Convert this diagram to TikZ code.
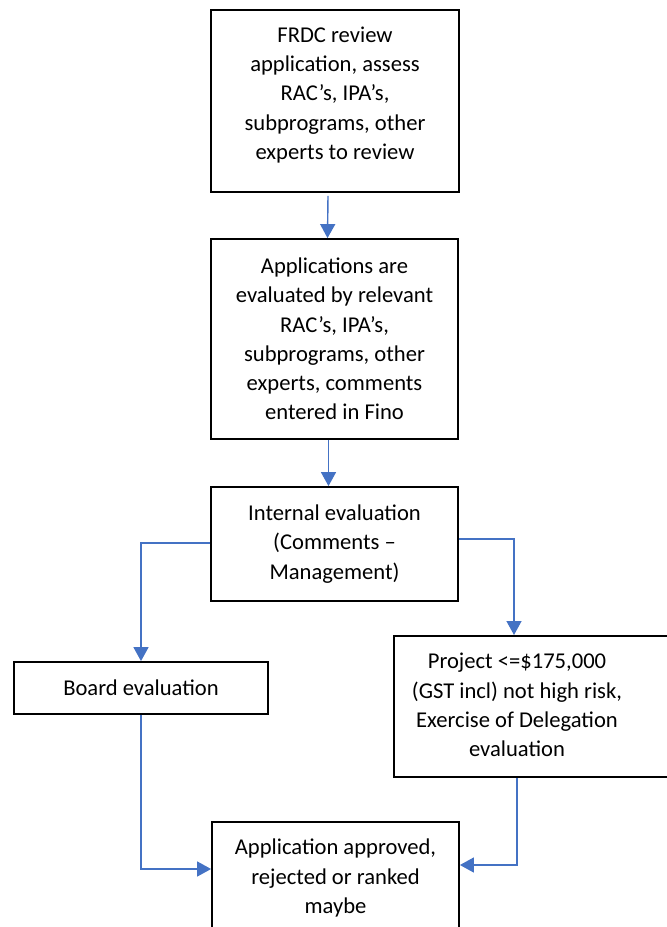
\documentclass[tikz,border=0pt]{standalone}
\usepackage{fontspec}
\setmainfont{Carlito}
\usetikzlibrary{arrows.meta, positioning, calc}

\definecolor{flowblue}{RGB}{68,114,196}

\begin{document}
\begin{tikzpicture}[
    x=1pt, y=-1pt,
    box/.style={draw, line width=1.8pt, minimum width=#1, inner sep=2pt,
                align=center, font=\fontsize{22.6}{29.2}\selectfont},
    txt/.style={align=center, inner sep=0pt, font=\fontsize{22.6}{29.2}\selectfont},
    flow/.style={draw=flowblue, line width=1.4pt,
                 -{Triangle[width=15pt, length=14pt]}}
  ]

  \useasboundingbox (0,0) rectangle (667,927);

  \node[box=248pt, minimum height=182pt] (frdc) at (335,101) {};
  \node[txt] (frdctxt) at (335,95)
    {FRDC review\\application, assess\\RAC’s, IPA’s,\\subprograms, other\\experts to review};
  \node[box=247pt, minimum height=200pt] (apps) at (334.5,339)
    {Applications are\\evaluated by relevant\\RAC’s, IPA’s,\\subprograms, other\\experts, comments\\entered in Fino};
  \node[box=247pt, minimum height=114pt] (internal) at (334.5,544)
    {Internal evaluation\\(Comments –\\Management)};
  \node[box=254pt, minimum height=52pt] (board) at (141,688)
    {Board evaluation};
  \node[box=330pt, minimum height=141pt, anchor=north west] (project) at (393,635) {};
  \node[txt] (projtxt) at (517,705)
    {Project <=\$175,000\\(GST incl) not high risk,\\Exercise of Delegation\\evaluation};
  \node[box=247pt, minimum height=112pt] (final) at (335.5,878)
    {Application approved,\\rejected or ranked\\maybe};

  % connectors
  \draw[flow] ([xshift=-7pt, yshift=-3pt]frdc.south) -- ([xshift=-7pt]apps.north);
  \draw[flow] ([xshift=-6pt]apps.south) -- ([xshift=-6pt]internal.north);
  \draw[flow] ([yshift=1pt]internal.west) -| (board.north);
  \draw[flow] ([yshift=5pt]internal.east) -| ([xshift=-3pt]projtxt.north |- project.north);
  \draw[flow] (board.south) |- ([yshift=9pt]final.west);
  \draw[flow] (projtxt.south |- project.south) |- ([yshift=13pt]final.east);

\end{tikzpicture}
\end{document}
